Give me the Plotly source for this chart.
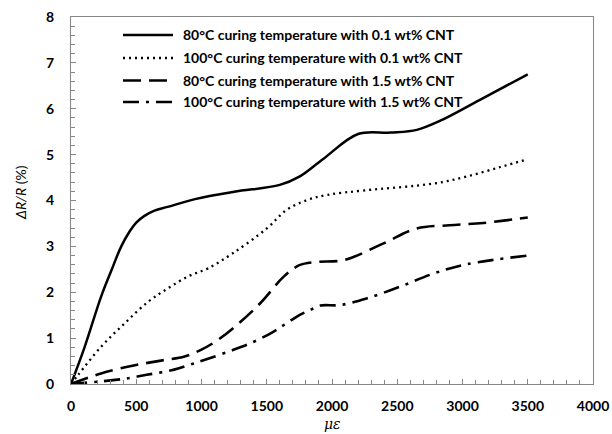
import plotly.graph_objects as go

# Data
strain_80_01 = [0, 105, 230, 310, 385, 450, 500, 560, 640, 740, 950, 1250, 1600, 1750, 1930, 2200, 2450, 2650, 2830, 3130, 3500]
resp_80_01 = [0, 0.81, 1.9, 2.48, 3.0, 3.33, 3.52, 3.66, 3.78, 3.86, 4.03, 4.19, 4.34, 4.52, 4.9, 5.45, 5.48, 5.54, 5.74, 6.19, 6.75]

strain_100_01 = [0, 55, 230, 410, 590, 740, 900, 1050, 1240, 1500, 1650, 1800, 1960, 2250, 2780, 3030, 3290, 3500]
resp_100_01 = [0, 0.2, 0.81, 1.32, 1.79, 2.08, 2.35, 2.52, 2.85, 3.39, 3.79, 4.0, 4.12, 4.22, 4.37, 4.52, 4.73, 4.9]

strain_80_15 = [0, 230, 490, 690, 870, 1000, 1120, 1240, 1450, 1630, 1750, 1880, 2090, 2390, 2650, 2900, 3160, 3500]
resp_80_15 = [0, 0.23, 0.41, 0.51, 0.6, 0.75, 0.95, 1.21, 1.76, 2.34, 2.59, 2.66, 2.7, 3.06, 3.39, 3.46, 3.51, 3.63]

strain_100_15 = [0, 400, 580, 770, 910, 1050, 1240, 1400, 1540, 1650, 1750, 1830, 1910, 2060, 2270, 2520, 2780, 3030, 3500]
resp_100_15 = [0, 0.11, 0.2, 0.3, 0.42, 0.55, 0.74, 0.92, 1.12, 1.32, 1.5, 1.61, 1.71, 1.72, 1.87, 2.12, 2.41, 2.61, 2.8]

labels = [
    "80°C curing temperature with 0.1 wt% CNT",
    "100°C curing temperature with 0.1 wt% CNT",
    "80°C curing temperature with 1.5 wt% CNT",
    "100°C curing temperature with 1.5 wt% CNT",
]
x_title = "<i>με</i>"
y_title = "<i>ΔR/R</i> (%)"

series = [
    (strain_80_01, resp_80_01, "solid", 2.5),
    (strain_100_01, resp_100_01, "2px,4px", 2.3),
    (strain_80_15, resp_80_15, "18px,8px", 2.6),
    (strain_100_15, resp_100_15, "16px,7px,3px,7px", 2.6),
]

FONT = "Lato"
L, R, T, B = 71, 19, 17, 50
W, H = 612, 434
PW, PH = W - L - R, H - T - B


def px_x(p):
    return (p - L) / PW


def px_y(p):
    return (H - B - p) / PH


fig = go.Figure()
for (xs, ys, dash, w), name in zip(series, labels):
    fig.add_trace(go.Scatter(
        x=xs, y=ys, mode="lines", name=name,
        line=dict(color="black", width=w, dash=dash, shape="spline", smoothing=1.0),
        showlegend=False,
    ))

# manual legend (samples + text)
legend_rows = [35, 58, 80.5, 102]
for (xs, ys, dash, w), name, ry in zip(series, labels, legend_rows):
    py = px_y(ry)
    fig.add_shape(type="line", xref="paper", yref="paper",
                  x0=px_x(123), x1=px_x(173), y0=py, y1=py,
                  line=dict(color="black", width=w, dash=dash))
    fig.add_annotation(xref="paper", yref="paper", x=px_x(181), y=py,
                       text=name, showarrow=False, xanchor="left", yanchor="middle",
                       font=dict(family=FONT, size=14, color="black", weight="bold"))

# axis titles
fig.add_annotation(xref="paper", yref="paper", x=0.5, y=px_y(424), text=x_title,
                   showarrow=False, xanchor="center", yanchor="middle",
                   font=dict(family="DejaVu Serif", size=14, color="black"))
fig.add_annotation(xref="paper", yref="paper", x=px_x(20), y=px_y(193), text=y_title,
                   showarrow=False, xanchor="center", yanchor="middle", textangle=-90,
                   font=dict(family=FONT, size=14, color="black"))

axis_common = dict(
    showgrid=False, zeroline=False, showline=True, linecolor="#868686", linewidth=1,
    mirror=True, ticks="inside", ticklen=5, tickcolor="#868686", tickwidth=1,
    tickfont=dict(family=FONT, size=14, color="black", weight="bold"),
    automargin=False,
)

fig.update_xaxes(range=[0, 4000], dtick=500, tick0=0,
                 minor=dict(dtick=100, ticks="inside", ticklen=4, tickcolor="#868686"),
                 ticklabelstandoff=9, **axis_common)
fig.update_yaxes(range=[0, 8], dtick=1, tick0=0,
                 minor=dict(dtick=0.2, ticks="inside", ticklen=4, tickcolor="#868686"),
                 ticklabelstandoff=13, **axis_common)

fig.update_layout(
    width=W, height=H,
    margin=dict(l=L, r=R, t=T, b=B),
    paper_bgcolor="white", plot_bgcolor="white",
    showlegend=False,
)

fig.write_html("out.html", config={"displayModeBar": False},
               post_script="document.body.style.margin='0';")
